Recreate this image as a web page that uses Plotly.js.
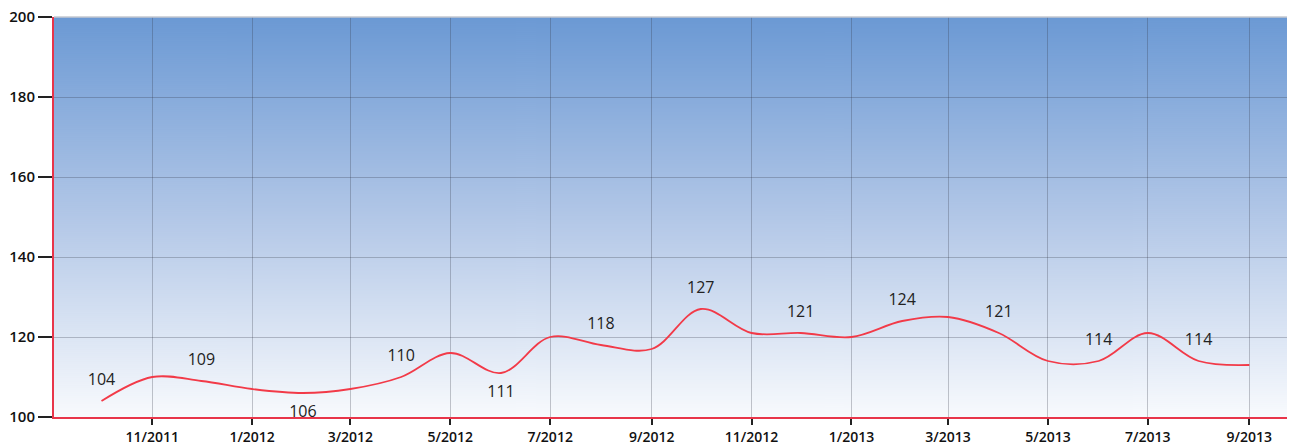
<!DOCTYPE html>
<html>
<head>
<meta charset="utf-8">
<script src="https://cdn.plot.ly/plotly-3.0.1.min.js"></script>
<style>html,body{margin:0;padding:0;background:#fff;}#chart{width:1289px;height:443px;}</style>
</head>
<body>
<div id="chart"></div>
<script>
// Monthly dates (first of month)
const months = ['2011-10-01','2011-11-01','2011-12-01','2012-01-01','2012-02-01','2012-03-01','2012-04-01','2012-05-01','2012-06-01','2012-07-01','2012-08-01','2012-09-01','2012-10-01','2012-11-01','2012-12-01','2013-01-01','2013-02-01','2013-03-01','2013-04-01','2013-05-01','2013-06-01','2013-07-01','2013-08-01','2013-09-01'];
const values = [104,110,109,107,106,107,110,116,111,120,118,117,127,121,121,120,124,125,121,114,114,121,114,113];
// which points carry a value label, and where
const labelShown = [1,0,1,0,1,0,1,0,1,0,1,0,1,0,1,0,1,0,1,0,1,0,1,0];
const labelBelow = [0,0,0,0,1,0,0,0,1,0,0,0,0,0,0,0,0,0,0,0,0,0,0,0];
const tickDates = ['2011-11-01','2012-01-01','2012-03-01','2012-05-01','2012-07-01','2012-09-01','2012-11-01','2013-01-01','2013-03-01','2013-05-01','2013-07-01','2013-09-01'];
const tickLabels = ['11/2011','1/2012','3/2012','5/2012','7/2012','9/2012','11/2012','1/2013','3/2013','5/2013','7/2013','9/2013'];
const yTicks = [100,120,140,160,180,200];

// gradient background image
const cv = document.createElement('canvas');
cv.width = 4; cv.height = 400;
const ctx = cv.getContext('2d');
const g = ctx.createLinearGradient(0,0,0,400);
g.addColorStop(0,'#6b99d4');
g.addColorStop(0.5,'#b2c7e7');
g.addColorStop(1,'#f8fafd');
ctx.fillStyle = g; ctx.fillRect(0,0,4,400);
const bgURL = cv.toDataURL('image/png');

const texts = values.map((v,i)=> labelShown[i] ? String(v) : '');
const tpos = values.map((v,i)=> labelBelow[i] ? 'bottom center' : 'top center');

const trace = {
  x: months, y: values, type: 'scatter', mode: 'lines+markers+text',
  line: {color: '#f23a48', width: 1.8, shape: 'spline', smoothing: 1},
  marker: {size: 18, opacity: 0, color: '#f23a48'},
  text: texts, textposition: tpos,
  textfont: {family: 'Open Sans, Noto Sans, sans-serif', size: 16, color: '#222'},
  hoverinfo: 'x+y', cliponaxis: false
};

const layout = {
  width: 1289, height: 443,
  margin: {l: 54, r: 2, t: 17, b: 26},
  paper_bgcolor: '#ffffff', plot_bgcolor: 'rgba(0,0,0,0)',
  showlegend: false,
  images: [{source: bgURL, xref: 'paper', yref: 'paper', x: 0, y: 1, sizex: 1, sizey: 1, sizing: 'stretch', layer: 'below', xanchor: 'left', yanchor: 'top'}],
  xaxis: {
    type: 'date', range: ['2011-09-02','2013-09-24'],
    tickmode: 'array', tickvals: tickDates, ticktext: tickLabels,
    showgrid: true, gridcolor: 'rgba(50,55,70,0.28)', gridwidth: 1,
    showline: true, linecolor: '#e8354a', linewidth: 2,
    ticks: 'outside', ticklen: 6, tickwidth: 2, tickcolor: '#222',
    tickfont: {family: 'Open Sans, Noto Sans, sans-serif', size: 14, color: '#111', weight: 600},
    zeroline: false, fixedrange: true
  },
  yaxis: {
    range: [100,200], tickmode: 'array', tickvals: yTicks,
    showgrid: true, gridcolor: 'rgba(50,55,70,0.28)', gridwidth: 1,
    showline: true, linecolor: '#e8354a', linewidth: 2,
    ticks: 'outside', ticklen: 14, tickwidth: 2, tickcolor: '#222',
    tickfont: {family: 'Open Sans, Noto Sans, sans-serif', size: 15, color: '#111', weight: 600},
    zeroline: false, fixedrange: true
  },
  shapes: [{type: 'line', xref: 'paper', yref: 'paper', x0: 0, x1: 1, y0: 1, y1: 1, line: {color: '#c4c8d0', width: 1.5}}]
};

Plotly.newPlot('chart', [trace], layout, {displayModeBar: false, staticPlot: true});
</script>
</body>
</html>
